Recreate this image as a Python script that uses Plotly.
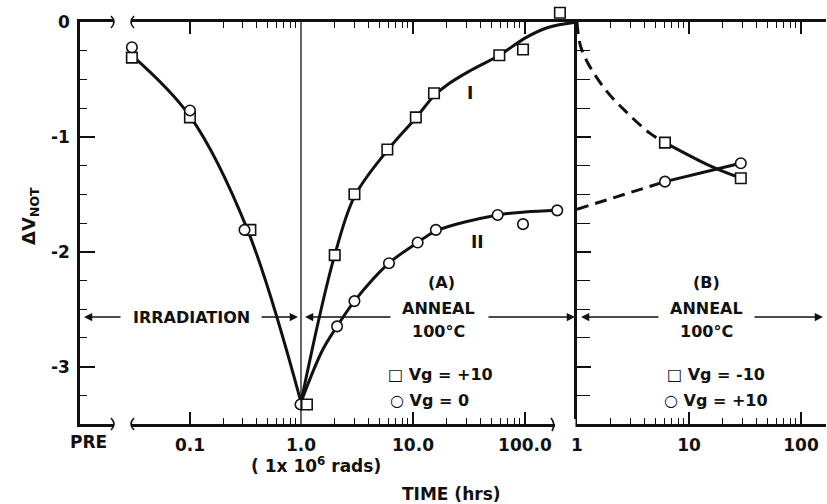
import plotly.graph_objects as go

# ---------------- data ----------------
# Irradiation (dose, 1e6 rads)
irr_curve_x = [0.03, 0.1, 0.33, 1.0]
irr_curve_y = [-0.29, -0.82, -1.81, -3.31]
irr_sq_x = [0.03, 0.1, 0.35]
irr_sq_y = [-0.31, -0.83, -1.81]
irr_ci_x = [0.03, 0.1, 0.31, 0.99]
irr_ci_y = [-0.22, -0.77, -1.81, -3.33]

# Anneal (A), time in hrs
a_curve1_x = [1.0, 1.45, 2.0, 3.0, 6.0, 10.5, 15.5, 20, 31.6, 59, 100, 158, 290]
a_curve1_y = [-3.31, -2.58, -2.03, -1.52, -1.11, -0.84, -0.64, -0.55, -0.43, -0.29, -0.14, -0.05, 0.0]
a_curve2_x = [1.0, 1.55, 2.1, 3.0, 6.1, 11, 16, 57, 100, 194]
a_curve2_y = [-3.31, -2.86, -2.65, -2.43, -2.10, -1.92, -1.82, -1.68, -1.655, -1.64]
a_sq_x = [1.13, 2.0, 3.0, 5.9, 10.6, 15.4, 59, 96, 205]
a_sq_y = [-3.33, -2.03, -1.50, -1.11, -0.83, -0.62, -0.29, -0.24, 0.08]
a_ci_x = [2.1, 3.0, 6.1, 11, 16, 57, 96, 194]
a_ci_y = [-2.65, -2.43, -2.10, -1.92, -1.81, -1.68, -1.76, -1.64]

# Anneal (B), time in hrs
b_sq_dash_x = [1.0, 1.1, 1.7, 2.8, 4.5, 6.1]
b_sq_dash_y = [0.0, -0.24, -0.56, -0.79, -0.97, -1.05]
b_sq_line_x = [6.1, 16, 29]
b_sq_line_y = [-1.05, -1.26, -1.36]
b_ci_dash_x = [1.0, 6.1]
b_ci_dash_y = [-1.63, -1.39]
b_ci_line_x = [6.1, 16, 29]
b_ci_line_y = [-1.39, -1.29, -1.23]
b_sq_x = [6.1, 29]
b_sq_y = [-1.05, -1.36]
b_ci_x = [6.1, 29]
b_ci_y = [-1.39, -1.23]

y_ticks = [0, -1, -2, -3]
y_ticktext = ["0", "-1", "-2", "-3"]

# ---------------- layout helpers ----------------
W, H = 827, 504
L, R, T, B = 80, 1, 6, 80
PW, PH = W - L - R, H - T - B
Y_TOP = 22                       # pixel row of the y = 0 frame line
YDOM_TOP = (H - B - Y_TOP) / PH  # domain top of the framed y axes
Y_EXTRA = (Y_TOP - T) / ((H - B - Y_TOP) / 3.5)  # y value at the very top of the plot area


def px(x):
    return (x - L) / PW


def py(y):
    return (H - B - y) / PH


FONT = "DejaVu Sans"
INK = "#111111"

fig = go.Figure()


def curve(x, y, xa, ya, dash="solid"):
    fig.add_trace(go.Scatter(x=x, y=y, xaxis=xa, yaxis=ya, mode="lines",
                             line=dict(color=INK, width=3, shape="spline", dash=dash),
                             hoverinfo="skip", showlegend=False, cliponaxis=False))


def pts(x, y, xa, ya, sym):
    fig.add_trace(go.Scatter(x=x, y=y, xaxis=xa, yaxis=ya, mode="markers",
                             marker=dict(symbol=sym, size=10.5, color="white",
                                         line=dict(color=INK, width=1.6)),
                             showlegend=False, cliponaxis=False))


curve(irr_curve_x, irr_curve_y, "x", "y")
pts(irr_sq_x, irr_sq_y, "x", "y", "square")
pts(irr_ci_x, irr_ci_y, "x", "y", "circle")

curve(a_curve1_x, a_curve1_y, "x2", "y3")
curve(a_curve2_x, a_curve2_y, "x2", "y3")
pts(a_sq_x, a_sq_y, "x2", "y3", "square")
pts(a_ci_x, a_ci_y, "x2", "y3", "circle")

curve(b_sq_dash_x, b_sq_dash_y, "x3", "y2", dash="12px,7px")
curve(b_ci_dash_x, b_ci_dash_y, "x3", "y2", dash="12px,7px")
curve(b_sq_line_x, b_sq_line_y, "x3", "y2")
curve(b_ci_line_x, b_ci_line_y, "x3", "y2")
pts(b_sq_x, b_sq_y, "x3", "y2", "square")
pts(b_ci_x, b_ci_y, "x3", "y2", "circle")

tickfont = dict(family=FONT, size=17, color=INK, weight="bold")
xcommon = dict(type="log", showgrid=False, zeroline=False, showline=True, linecolor=INK,
               linewidth=2.5, ticks="inside", ticklen=12, tickwidth=1.6, tickcolor=INK,
               mirror="ticks", tickfont=tickfont, ticklabelstandoff=4, automargin=False)
minor_common = dict(ticks="inside", ticklen=6, tickwidth=1.4, tickcolor=INK, showgrid=False)
ydom = [0, YDOM_TOP]
minor_y = [0.2, 0.3, 0.4, 0.5, 0.6, 0.7, 0.8, 0.9]
minor_hr = [2, 3, 4, 5, 6, 7, 8, 9, 20, 30, 40, 50, 60, 70, 80, 90]

fig.update_layout(
    width=W, height=H, margin=dict(l=L, r=R, t=T, b=B),
    paper_bgcolor="white", plot_bgcolor="white",
    xaxis=dict(domain=[0, px(301)], anchor="y", range=[-1.99, 0],
               tickvals=[0.1, 1.0], ticktext=["0.1", "1.0"],
               minor=dict(tickvals=minor_y, **minor_common), **xcommon),
    xaxis2=dict(domain=[px(301), px(577)], anchor="y", range=[0, 276 / 112],
                tickvals=[10, 100], ticktext=["10.0", "100.0"],
                minor=dict(tickvals=minor_hr, **minor_common), **xcommon),
    xaxis3=dict(domain=[px(577), 1], anchor="y2", range=[0, 249 / 112],
                tickvals=[1, 10, 100], ticktext=["1", "10", "100"],
                minor=dict(tickvals=minor_hr, **minor_common), **xcommon),
    yaxis=dict(domain=ydom, anchor="x", range=[-3.5, 0], showgrid=False, zeroline=False,
               showline=True, linecolor=INK, linewidth=2.5, automargin=False,
               tickvals=y_ticks, ticktext=y_ticktext, ticks="inside", ticklen=15,
               tickwidth=1.6, tickcolor=INK, tickfont=tickfont, ticklabelstandoff=4,
               minor=dict(dtick=0.25, tick0=0, ticks="inside", ticklen=7, tickwidth=1.4,
                          tickcolor=INK)),
    yaxis2=dict(domain=ydom, anchor="x3", range=[-3.5, 0], showgrid=False, zeroline=False,
                showline=True, linecolor=INK, linewidth=3, side="left", automargin=False,
                tickvals=y_ticks, showticklabels=False, ticks="inside", ticklen=14,
                tickwidth=1.6, tickcolor=INK,
                minor=dict(dtick=0.25, tick0=0, ticks="inside", ticklen=13, tickwidth=1.4,
                           tickcolor=INK)),
    yaxis4=dict(domain=ydom, anchor="x3", overlaying="y2", range=[-3.5, 0], showgrid=False,
                zeroline=False, showline=True, linecolor=INK, linewidth=2.5, side="right",
                automargin=False, tickvals=y_ticks, showticklabels=False, ticks="inside",
                ticklen=10, tickwidth=1.6, tickcolor=INK,
                minor=dict(dtick=0.25, tick0=0, ticks="inside", ticklen=7, tickwidth=1.4,
                           tickcolor=INK)),
    # panel A: same scale, but reaching into the strip above the frame (point above 0)
    yaxis3=dict(domain=[0, 1], anchor="x2", range=[-3.5, Y_EXTRA], visible=False,
                showgrid=False, zeroline=False, automargin=False),
)


def txt(x, y, s, size=16, **kw):
    fig.add_annotation(x=px(x), y=py(y), xref="paper", yref="paper", text=s,
                       xanchor="center", yanchor="middle", showarrow=False,
                       font=dict(family=FONT, size=size, color=INK, weight="bold"), **kw)


def arrow(xh, y, xt):
    fig.add_annotation(x=px(xh), y=py(y), xref="paper", yref="paper", text="",
                       showarrow=True, ax=xt - xh, ay=0, axref="pixel", ayref="pixel",
                       arrowhead=2, arrowsize=1.1, arrowwidth=1.5, arrowcolor=INK)


txt(88, 442, "PRE", 17)
txt(316, 465, "( 1x 10<sup>6</sup> rads)", 17)
txt(451, 494, "TIME (hrs)", 17)
txt(30, 216, "ΔV<sub>NOT</sub>", 18, textangle=-90)

txt(191, 317, "IRRADIATION", 16)
arrow(84, 317, 122)
arrow(298, 317, 260)

txt(441, 282, "(A)", 16)
txt(438, 308, "ANNEAL", 16)
txt(438, 331, "100°C", 16)
arrow(305, 317, 392)
arrow(575, 317, 487)
txt(440, 374, "□ Vg = +10", 16)
txt(429, 400, "○ Vg = 0", 16)

txt(706, 282, "(B)", 16)
txt(706, 308, "ANNEAL", 16)
txt(706, 331, "100°C", 16)
arrow(581, 317, 660)
arrow(823, 317, 753)
txt(716, 374, "□ Vg = -10", 16)
txt(716, 400, "○ Vg = +10", 16)

txt(470, 93, "I", 17)
txt(477, 242, "II", 17)

shapes = []
# thin vertical line at the end of irradiation (1.0)
shapes.append(dict(type="line", xref="paper", yref="paper", x0=px(301), x1=px(301),
                   y0=py(424), y1=py(22), line=dict(color=INK, width=1.3)))
# axis breaks
for yb in (424, 22):
    shapes.append(dict(type="rect", xref="paper", yref="paper", x0=px(114), x1=px(131),
                       y0=py(yb + 5), y1=py(yb - 5), fillcolor="white", line_width=0,
                       layer="above"))
    shapes.append(dict(type="path", xref="paper", yref="paper", layer="above",
                       path=f"M {px(111)},{py(yb - 6)} Q {px(117)},{py(yb)} {px(111)},{py(yb + 6)}",
                       line=dict(color=INK, width=1.6)))
    shapes.append(dict(type="path", xref="paper", yref="paper", layer="above",
                       path=f"M {px(134)},{py(yb - 6)} Q {px(128)},{py(yb)} {px(134)},{py(yb + 6)}",
                       line=dict(color=INK, width=1.6)))
shapes.append(dict(type="rect", xref="paper", yref="paper", x0=px(555), x1=px(575.5),
                   y0=py(429), y1=py(419), fillcolor="white", line_width=0, layer="above"))
shapes.append(dict(type="path", xref="paper", yref="paper", layer="above",
                   path=f"M {px(551)},{py(418)} Q {px(556)},{py(424)} {px(552)},{py(431)}",
                   line=dict(color=INK, width=1.6)))
fig.update_layout(shapes=shapes)

fig.write_html("out.html")
